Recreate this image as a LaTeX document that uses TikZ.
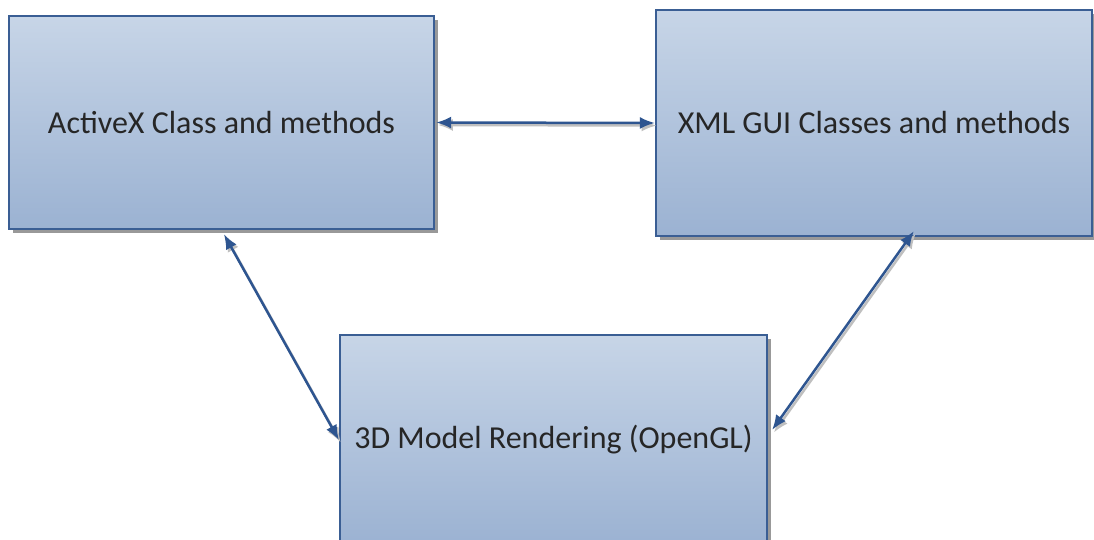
\documentclass[tikz,border=0pt]{standalone}
\usepackage{fontspec}
\setmainfont{Carlito}
\usetikzlibrary{arrows.meta,shadows}
\definecolor{boxtop}{HTML}{C7D5E7}
\definecolor{boxbot}{HTML}{9BB2D2}
\definecolor{boxline}{HTML}{3A5E94}
\definecolor{arrowblue}{HTML}{2E5590}
\definecolor{txt}{HTML}{262626}
\tikzset{
  block/.style={draw=boxline, line width=2.2pt, top color=boxtop, bottom color=boxbot,
    inner sep=0pt, font=\fontsize{32}{38}\selectfont, text=txt,
    drop shadow={shadow xshift=4pt, shadow yshift=-4pt, fill=black!40, opacity=1}},
  conn/.style={{Latex[length=15pt,width=12pt]}-{Latex[length=15pt,width=12pt]}, line width=2.5pt, draw=arrowblue,
    preaction={draw=black!25, line width=2.5pt, transform canvas={xshift=1.8pt,yshift=-2.5pt}}}
}
\begin{document}
\begin{tikzpicture}[x=1pt,y=-1pt]
\useasboundingbox (0,0) rectangle (1094,540);
\fill[white] (0,0) rectangle (1094,540);
\node[block, minimum width=425pt, minimum height=213pt] (a) at (221.5,122.5) {ActiveX Class and methods};
\node[block, minimum width=436pt, minimum height=226pt] (b) at (874,123) {XML GUI Classes and methods};
\node[block, minimum width=427pt, minimum height=210pt] (c) at (553.5,440) {3D Model Rendering (OpenGL)};
\draw[conn] ([xshift=1pt]a.east) -- (b.west);
\draw[conn] ([xshift=216pt,yshift=-4pt]a.south west) -- (c.west);
\draw[conn] ([xshift=4pt,yshift=10pt]c.east) -- ([xshift=259pt,yshift=6pt]b.south west);
\end{tikzpicture}
\end{document}
